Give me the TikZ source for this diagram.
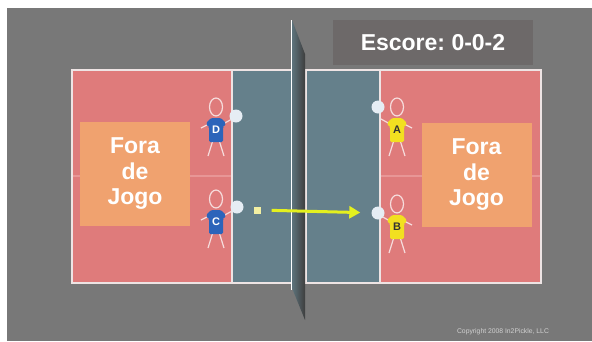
\documentclass[tikz,border=0pt]{standalone}
\usepackage{fontspec}
\setmainfont{Liberation Sans}
\usetikzlibrary{arrows.meta}
\frenchspacing

\definecolor{bgGray}{HTML}{787878}
\definecolor{courtPink}{HTML}{DF7B7B}
\definecolor{kitchenBlue}{HTML}{65808B}
\definecolor{lineWhite}{HTML}{EEE4E4}
\definecolor{centerPink}{HTML}{E89696}
\definecolor{scoreGray}{HTML}{6D6969}
\definecolor{offOrange}{HTML}{F0A26F}
\definecolor{shirtBlue}{HTML}{2C64BA}
\definecolor{shirtYellow}{HTML}{F2E020}
\definecolor{figPink}{HTML}{F6DCDC}
\definecolor{paddleWhite}{HTML}{E6EDF4}
\definecolor{ballYellow}{HTML}{F3EFA2}
\definecolor{arrowYellow}{HTML}{E4F01E}
\definecolor{netDark}{HTML}{3E3E3E}

\tikzset{
  courtline/.style={draw=lineWhite, line width=1.6pt},
  figline/.style={draw=figPink, line width=1.2pt},
  offbox/.style={fill=offOrange, minimum width=110pt, minimum height=104pt,
    inner sep=0pt, text=white, align=center,
    font=\bfseries\fontsize{23}{25.5}\selectfont},
  paddle/.style={circle, fill=paddleWhite, minimum size=13pt, inner sep=0pt},
  ball/.style={fill=ballYellow, minimum size=7pt, inner sep=0pt},
  shot/.style={draw=arrowYellow, line width=3pt,
    -{Triangle[length=11pt,width=12pt]}},
  pics/player/.style n args={3}{code={
    % head
    \draw[figline] (0,-23) ellipse [x radius=6.5, y radius=9];
    % legs
    \draw[figline] (-3,10) -- (-8,26) (3,10) -- (8,26);
    % arms: the racket arm reaches up and out, the other hangs
    \draw[figline] (7,-6) -- (16,-11) (-7,-6) -- (-15,-2);
    % shirt
    \fill[#1, rounded corners=1.5pt] (-5,-12) -- (5,-12) -- (10,-7) -- (8,-3)
      -- (7,-4) -- (7,12) -- (-7,12) -- (-7,-4) -- (-8,-3) -- (-10,-7) -- cycle;
    \node[font=\bfseries\fontsize{11}{11}\selectfont, text=#2, inner sep=0pt]
      (letter) at (0,0) {#3};
  }},
}

\begin{document}
\begin{tikzpicture}[x=1pt, y=-1pt]
\useasboundingbox (0,0) rectangle (592,341);
\fill[white] (0,0) rectangle (592,341);
\fill[bgGray] (7,8) rectangle (592,341);

% court surface
\fill[courtPink] (72,70) rectangle (541,283);
\fill[kitchenBlue] (232,70) rectangle (292,283);
\fill[kitchenBlue] (305,70) rectangle (380,283);
% centre lines of the service areas
\draw[centerPink, line width=1.4pt] (72,176) -- (232,176) (380,176) -- (541,176);
% court lines
\draw[courtline] (72,70) rectangle (541,283);
\draw[courtline] (232,70) -- (232,283);
\draw[courtline] (380,70) -- (380,283);
\draw[courtline] (306,70) -- (306,283);

% the net, seen edge-on
\shade[left color=kitchenBlue!80!netDark, right color=netDark]
  (292,20) -- (305,54) -- (305,320) -- (292,288) -- cycle;
\draw[white, line width=1.8pt] (291.5,20) -- (291.5,290);

% score
\node[fill=scoreGray, minimum width=200pt, minimum height=45pt, inner sep=0pt,
  text=white, font=\bfseries\fontsize{23}{25}\selectfont]
  (score) at (433,42.5) {Escore: 0-0-2};

% players off the game
\node[offbox] (offL) at (135,174) {Fora\\de\\Jogo};
\node[offbox] (offR) at (476.5,175) {Fora\\de\\Jogo};

% players
\pic (pD) at (216,130) {player={shirtBlue}{white}{D}};
\pic (pC) at (216,222) {player={shirtBlue}{white}{C}};
\pic[xscale=-1] (pA) at (397,130) {player={shirtYellow}{black!80}{A}};
\pic[xscale=-1] (pB) at (397,227) {player={shirtYellow}{black!80}{B}};

% paddles
\node[paddle] (padD) at (236,116) {};
\node[paddle] (padC) at (237,207) {};
\node[paddle] (padA) at (378,107) {};
\node[paddle] (padB) at (378,213) {};

% ball and its flight
\node[ball] (ball) at (257,210) {};
\draw[shot, shorten <=11pt, shorten >=11pt] (ball) -- (padB);

\node[text=white!82!black, font=\fontsize{6.8}{7}\selectfont, inner sep=0pt]
  (copy) at (503,332) {Copyright 2008 In2Pickle, LLC};
\end{tikzpicture}
\end{document}
